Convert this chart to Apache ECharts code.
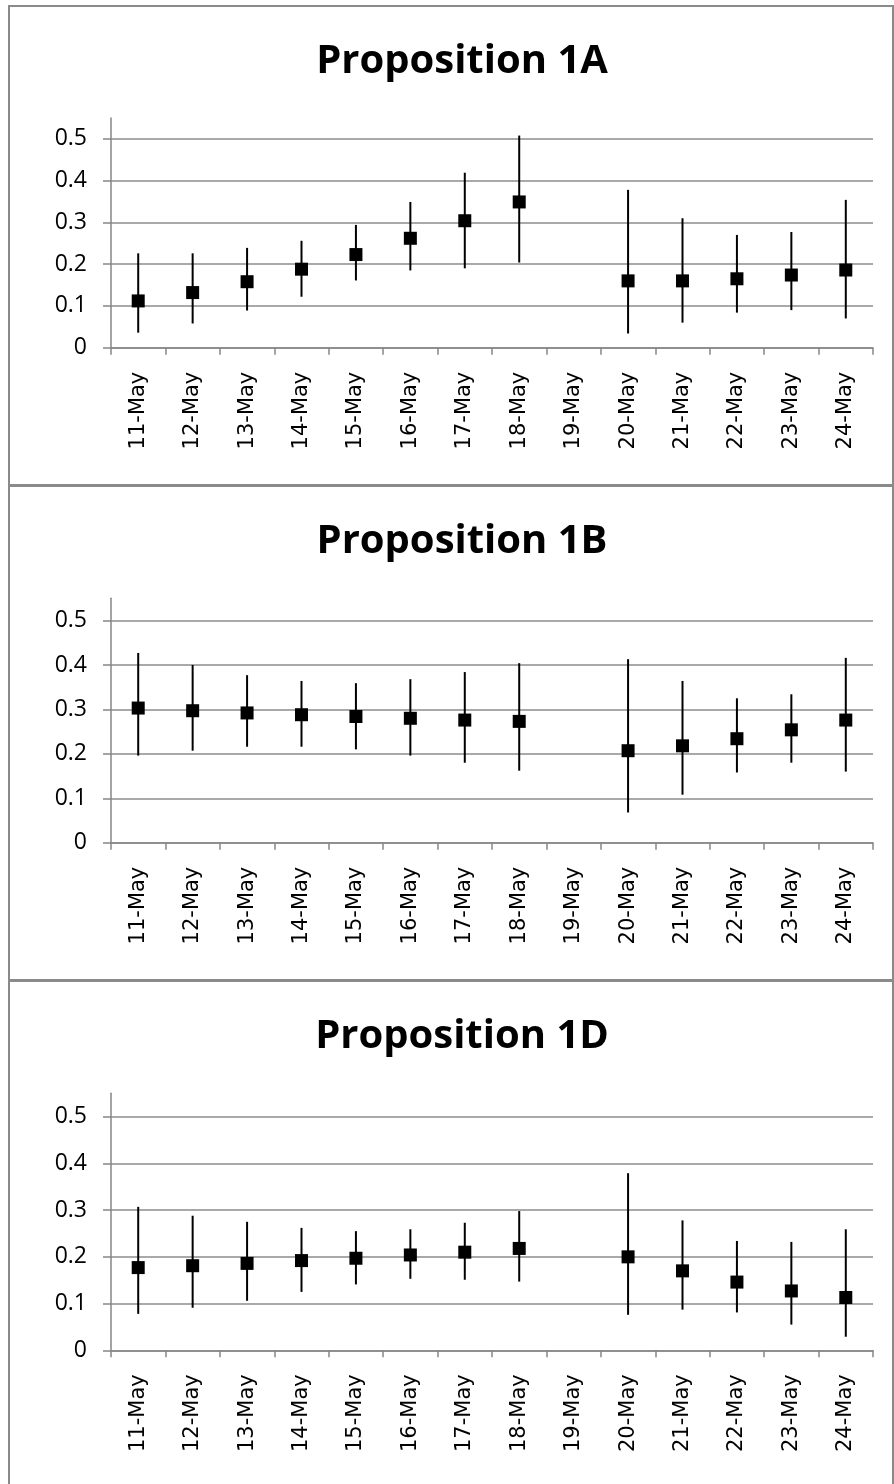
<!DOCTYPE html>
<html>
<head>
<meta charset="utf-8">
<script src="https://cdn.jsdelivr.net/npm/echarts@6/dist/echarts.min.js"></script>
<style>
html,body{margin:0;padding:0;background:#fff;}
#chart{width:894px;height:1484px;}
</style>
</head>
<body>
<div id="chart"></div>
<script>
// ---- data ----
const categories = ['11-May','12-May','13-May','14-May','15-May','16-May','17-May','18-May','19-May','20-May','21-May','22-May','23-May','24-May'];
const yTicks = [0, 0.1, 0.2, 0.3, 0.4, 0.5];
const titles = ['Proposition 1A', 'Proposition 1B', 'Proposition 1D'];

const p1Mean = [0.112,0.132,0.158,0.188,0.223,0.262,0.304,0.349,null,0.160,0.160,0.165,0.174,0.186];
const p1Low  = [0.036,0.058,0.089,0.122,0.161,0.185,0.190,0.204,null,0.034,0.060,0.084,0.090,0.070];
const p1High = [0.226,0.226,0.239,0.256,0.294,0.349,0.419,0.508,null,0.378,0.310,0.270,0.277,0.354];

const p2Mean = [0.303,0.297,0.292,0.288,0.284,0.280,0.276,0.273,null,0.207,0.218,0.234,0.254,0.276];
const p2Low  = [0.196,0.207,0.216,0.216,0.210,0.196,0.180,0.162,null,0.068,0.108,0.158,0.180,0.160];
const p2High = [0.427,0.400,0.377,0.364,0.359,0.368,0.384,0.404,null,0.413,0.364,0.325,0.334,0.416];

const p3Mean = [0.177,0.181,0.186,0.192,0.197,0.204,0.210,0.218,null,0.200,0.170,0.146,0.127,0.113];
const p3Low  = [0.078,0.091,0.106,0.125,0.141,0.153,0.151,0.147,null,0.076,0.087,0.081,0.055,0.029];
const p3High = [0.307,0.288,0.275,0.262,0.255,0.259,0.273,0.298,null,0.379,0.278,0.234,0.232,0.259];

const panels = [
  {mean: p1Mean, low: p1Low, high: p1High},
  {mean: p2Mean, low: p2Low, high: p2High},
  {mean: p3Mean, low: p3Low, high: p3High}
];

// ---- layout ----
const layout = [
  {panelTop: 6,   panelBottom: 485,  gridTop: 118,    gridHeight: 229.7, titleTop: 36},
  {panelTop: 486, panelBottom: 980,  gridTop: 598.3,  gridHeight: 244.4, titleTop: 516},
  {panelTop: 981, panelBottom: 1495, gridTop: 1093.3, gridHeight: 257,   titleTop: 1011}
];
const axisGray = '#868686';
const gridGray = '#8c8c8c';

const chart = echarts.init(document.getElementById('chart'), null, {renderer: 'canvas'});

const option = {
  animation: false,
  backgroundColor: '#fff',
  title: layout.map((L, i) => ({
    text: titles[i],
    left: 457,
    top: L.titleTop,
    textAlign: 'center',
    textStyle: {fontFamily: 'Open Sans', fontWeight: 'bold', fontSize: 40, color: '#000', lineHeight: 42}
  })),
  graphic: layout.map(L => ({
    type: 'rect',
    silent: true,
    z: -1,
    shape: {x: 9, y: L.panelTop, width: 884, height: L.panelBottom - L.panelTop},
    style: {fill: 'none', stroke: '#8a8a8a', lineWidth: 2}
  })),
  grid: layout.map(L => ({left: 111, right: 21, top: L.gridTop, height: L.gridHeight, containLabel: false})),
  xAxis: layout.map((L, i) => ({
    type: 'category',
    gridIndex: i,
    data: categories,
    boundaryGap: true,
    axisLine: {show: true, lineStyle: {color: axisGray, width: 1.5}},
    axisTick: {show: true, alignWithLabel: false, length: 7, lineStyle: {color: axisGray, width: 1.5}},
    axisLabel: {
      rotate: 90, margin: 24, interval: 0,
      fontFamily: 'DejaVu Sans', fontSize: 21, color: '#000'
    },
    splitLine: {show: false}
  })),
  yAxis: layout.map((L, i) => ({
    type: 'value',
    gridIndex: i,
    min: 0, max: 0.55, interval: 0.1,
    axisLine: {show: true, lineStyle: {color: axisGray, width: 1.5}},
    axisTick: {show: true, length: 8, customValues: yTicks, lineStyle: {color: axisGray, width: 1.5}},
    axisLabel: {
      customValues: yTicks, margin: 24,
      fontFamily: 'Open Sans', fontSize: 23, color: '#000',
      formatter: v => String(Math.round(v * 10) / 10)
    },
    splitLine: {show: true, lineStyle: {color: gridGray, width: 1.5}}
  })),
  series: []
};

panels.forEach((P, i) => {
  const bars = [];
  categories.forEach((c, k) => {
    if (P.low[k] != null && P.high[k] != null) bars.push([k, P.low[k], P.high[k]]);
  });
  option.series.push({
    type: 'custom',
    xAxisIndex: i, yAxisIndex: i,
    data: bars,
    encode: {x: 0, y: [1, 2]},
    renderItem: function (params, api) {
      const a = api.coord([api.value(0), api.value(1)]);
      const b = api.coord([api.value(0), api.value(2)]);
      return {
        type: 'line',
        shape: {x1: a[0], y1: a[1], x2: b[0], y2: b[1]},
        style: {stroke: '#000', lineWidth: 2}
      };
    },
    z: 3
  });
  option.series.push({
    type: 'scatter',
    xAxisIndex: i, yAxisIndex: i,
    data: P.mean.map(v => v == null ? '-' : v),
    symbol: 'rect',
    symbolSize: 13,
    itemStyle: {color: '#000', opacity: 1},
    z: 4
  });
});

chart.setOption(option);
</script>
</body>
</html>
